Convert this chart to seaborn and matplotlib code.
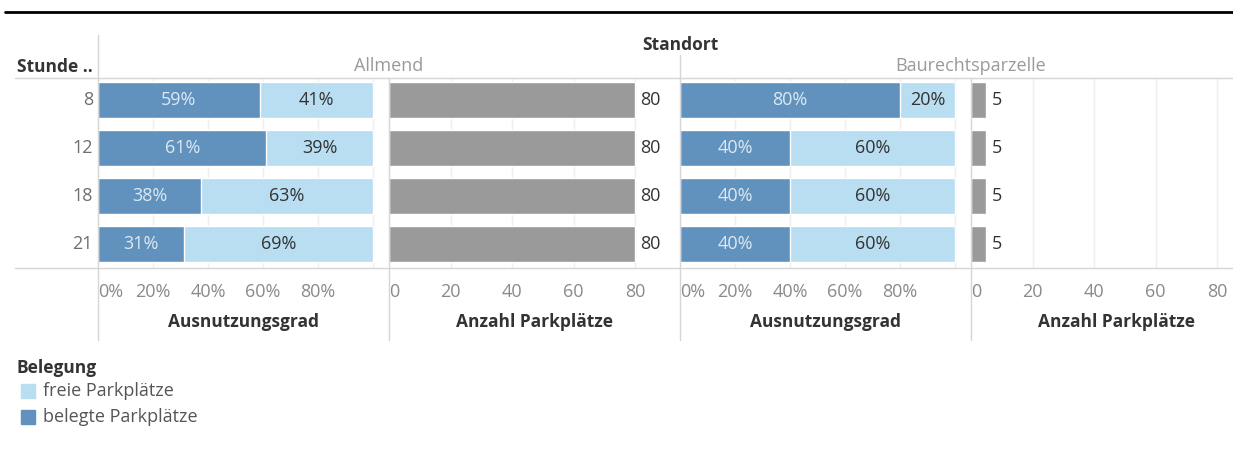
import numpy as np
import pandas as pd
import matplotlib
matplotlib.use("Agg")
import matplotlib.pyplot as plt
import seaborn as sns
from matplotlib.lines import Line2D
from matplotlib.patches import Rectangle

# ---- data -----------------------------------------------------------------
stunden = ["8", "12", "18", "21"]
standorte = ["Allmend", "Baurechtsparzelle"]
allmend_total = [80, 80, 80, 80]
allmend_belegt = [47, 49, 30, 25]
baurecht_total = [5, 5, 5, 5]
baurecht_belegt = [4, 2, 2, 2]
belegung = ["freie Parkplätze", "belegte Parkplätze"]

pct_ticks = [0, 0.2, 0.4, 0.6, 0.8]
pct_tick_labels = ["0%", "20%", "40%", "60%", "80%"]
count_ticks = [0, 20, 40, 60, 80]
count_tick_labels = ["0", "20", "40", "60", "80"]

rows = []
for ort, tot, bel in [(standorte[0], allmend_total, allmend_belegt),
                      (standorte[1], baurecht_total, baurecht_belegt)]:
    for s, t, b in zip(stunden, tot, bel):
        rows.append({"Standort": ort, "Stunde": s, "Total": t,
                     "Belegt": b, "Frei": t - b,
                     "Anteil_belegt": b / t, "Anteil_frei": (t - b) / t})
df = pd.DataFrame(rows)

# ---- style ----------------------------------------------------------------
sns.set_theme(style="white")
plt.rcParams["font.family"] = ["Open Sans", "DejaVu Sans"]

C_DARK = "#6192BD"
C_LIGHT = "#B9DDF1"
C_GREY = "#9A9A9A"
C_LINE = "#D6D6D6"
C_GRID = "#EFEFEF"
C_TICK = "#8A8A8A"
C_TEXT = "#333333"
FS = 13          # regular text
FSB = 12.5       # bold titles

W, H = 1233, 450
fig = plt.figure(figsize=(W / 100, H / 100), dpi=100)


def fx(px):
    return px / W


def fy(py):
    return 1 - py / H


TOP, BOT = 78, 268
panels = [(98, 389), (389, 680), (680, 971), (971, 1233)]
PX_PER_PCT = 275.0        # pixels for 100 %
PX_PER_UNIT = 246.0 / 80  # pixels per parking space
TITLE_Y = -(322 - BOT) / (BOT - TOP)


def pct_label(v):
    return f"{int(np.floor(v * 100 + 0.5))}%"


def style_axes(ax, ticks, ticklabels, xmax):
    ax.set_xlim(0, xmax)
    ax.set_ylim(3.5, -0.46)
    for sp in ax.spines.values():
        sp.set_visible(False)
    ax.set_xticks(ticks)
    ax.set_xticklabels(ticklabels)
    ax.tick_params(axis="x", length=0, pad=11, labelsize=FS, labelcolor=C_TICK)
    ax.set_yticks([])
    ax.set_xlabel("")
    ax.set_ylabel("")
    for t in ticks[1:] + [ticks[1] * 5]:
        ax.axvline(t, color=C_GRID, lw=1, zorder=0)
    labs = ax.get_xticklabels()
    labs[0].set_horizontalalignment("left")


for i, ort in enumerate(standorte):
    sub = df[df["Standort"] == ort]
    x0, x1 = panels[2 * i]
    ax = fig.add_axes([fx(x0), fy(BOT), fx(x1 - x0), fy(TOP) - fy(BOT)])
    sub_full = sub.assign(Gesamt=sub["Anteil_belegt"] + sub["Anteil_frei"])
    sns.barplot(data=sub_full, x="Gesamt", y="Stunde", order=stunden, orient="h",
                color=C_LIGHT, saturation=1, width=0.75, ax=ax, zorder=2)
    sns.barplot(data=sub, x="Anteil_belegt", y="Stunde", order=stunden, orient="h",
                color=C_DARK, saturation=1, width=0.75, ax=ax, zorder=3)
    style_axes(ax, pct_ticks, pct_tick_labels, (x1 - x0) / PX_PER_PCT)
    for k, r in enumerate(sub.itertuples()):
        ax.text(r.Anteil_belegt / 2, k, pct_label(r.Anteil_belegt), ha="center",
                va="center", color="#DCE9F3", fontsize=FS, zorder=4)
        ax.text(r.Anteil_belegt + r.Anteil_frei / 2, k, pct_label(r.Anteil_frei),
                ha="center", va="center", color=C_TEXT, fontsize=FS, zorder=4)
    ax.text(0.5, TITLE_Y, "Ausnutzungsgrad", transform=ax.transAxes, ha="center",
            va="center", fontsize=FSB, fontweight="bold", color=C_TEXT)

    x0, x1 = panels[2 * i + 1]
    ax2 = fig.add_axes([fx(x0), fy(BOT), fx(x1 - x0), fy(TOP) - fy(BOT)])
    sns.barplot(data=sub, x="Total", y="Stunde", order=stunden, orient="h",
                color=C_GREY, saturation=1, width=0.75, ax=ax2, zorder=3)
    style_axes(ax2, count_ticks, count_tick_labels, (x1 - x0) / PX_PER_UNIT)
    ax2.bar_label(ax2.containers[0], labels=[str(v) for v in sub["Total"]],
                  padding=4, color=C_TEXT, fontsize=FS)
    ax2.text(0.5 * 291 / (x1 - x0), TITLE_Y, "Anzahl Parkplätze",
             transform=ax2.transAxes, ha="center", va="center", fontsize=FSB,
             fontweight="bold", color=C_TEXT)

# row labels
for k, s in enumerate(stunden):
    fig.text(fx(93), fy(100 + 48 * k), s, ha="right", va="center",
             fontsize=FS, color="#6E6E6E")

# headers
fig.text(fx(17), fy(67), "Stunde ..", ha="left", va="center", fontsize=FSB,
         fontweight="bold", color=C_TEXT)
fig.text(fx(680), fy(45), "Standort", ha="center", va="center", fontsize=FSB,
         fontweight="bold", color=C_TEXT)
fig.text(fx(389), fy(66), standorte[0], ha="center", va="center", fontsize=FS,
         color="#9A9A9A")
fig.text(fx(971), fy(66), standorte[1], ha="center", va="center", fontsize=FS,
         color="#9A9A9A")

# frame lines
fig.add_artist(Line2D([fx(5), fx(1233)], [fy(12), fy(12)], color="black", lw=2))
for yy in (TOP, BOT):
    fig.add_artist(Line2D([fx(15), fx(1233)], [fy(yy), fy(yy)], color=C_LINE, lw=1))
for xx, ytop in [(98, 35), (389, TOP), (680, 55), (971, TOP)]:
    fig.add_artist(Line2D([fx(xx), fx(xx)], [fy(ytop), fy(340)], color=C_LINE, lw=1))

# legend
fig.text(fx(17), fy(368), "Belegung", ha="left", va="center", fontsize=FSB,
         fontweight="bold", color=C_TEXT)
for k, (lab, col) in enumerate(zip(belegung, [C_LIGHT, C_DARK])):
    yc = 391 + 26 * k
    fig.add_artist(Rectangle((fx(21), fy(yc + 7)), fx(14), fy(0) - fy(14),
                             color=col, transform=fig.transFigure))
    fig.text(fx(43), fy(yc), lab, ha="left", va="center", fontsize=FS,
             color="#555555")

fig.savefig("out.png", dpi=100)
